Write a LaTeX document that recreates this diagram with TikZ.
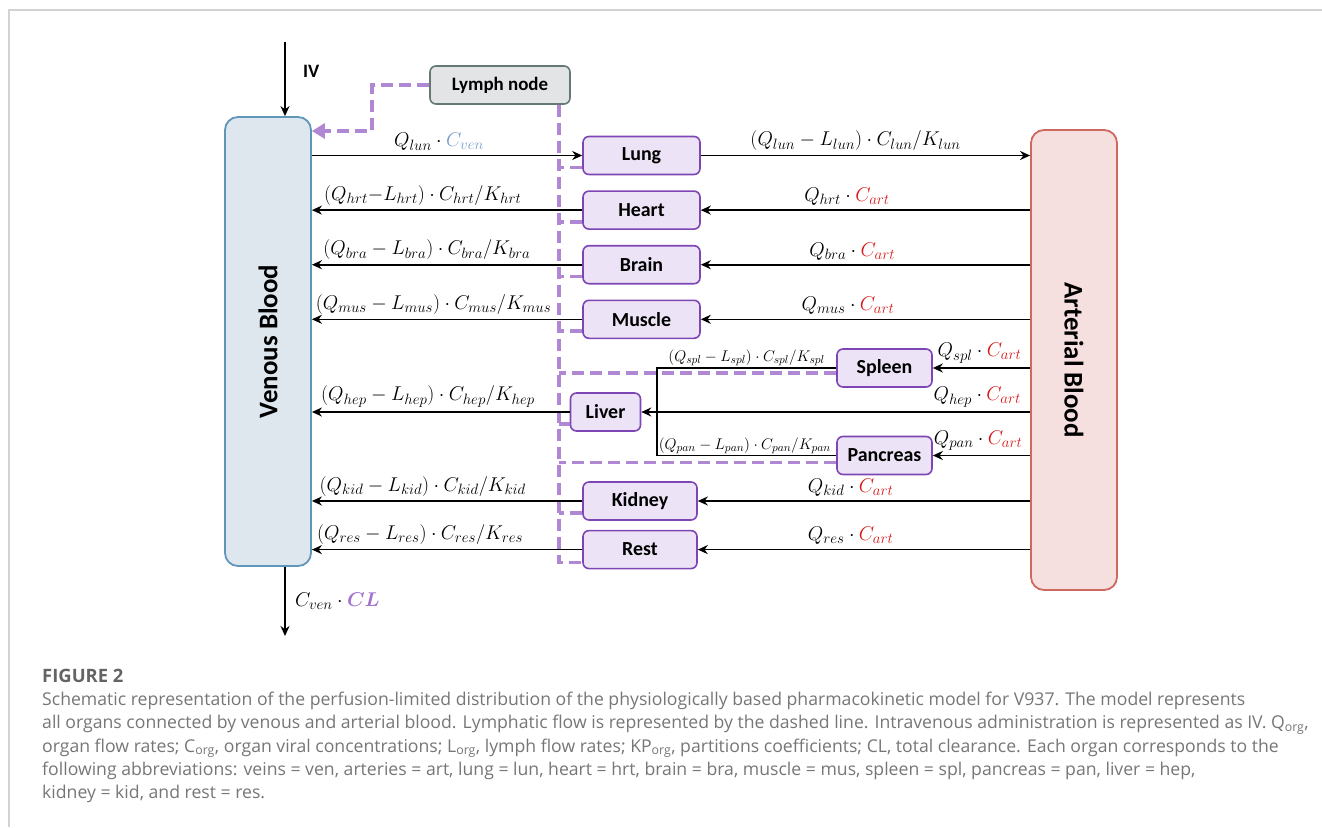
\RequirePackage{fix-cm}
\documentclass[tikz,border=0pt]{standalone}
\usepackage{fontspec}
\usepackage{amsmath}
\usetikzlibrary{arrows.meta,positioning,calc}
\newfontfamily\boxfont{Carlito}
\newfontfamily\capfont{Open Sans}
\definecolor{venfill}{RGB}{222,230,238}
\definecolor{venline}{RGB}{96,150,185}
\definecolor{artfill}{RGB}{246,223,223}
\definecolor{artline}{RGB}{205,105,95}
\definecolor{organfill}{RGB}{236,228,246}
\definecolor{organline}{RGB}{125,70,180}
\definecolor{lymphfill}{RGB}{226,228,230}
\definecolor{lymphline}{RGB}{100,120,118}
\definecolor{lymphc}{RGB}{175,135,210}
\definecolor{venblue}{RGB}{120,155,210}
\definecolor{artred}{RGB}{215,25,25}
\definecolor{clc}{RGB}{165,115,205}
\definecolor{capc}{RGB}{118,118,118}
\definecolor{framec}{RGB}{210,210,210}
\DeclareMathSizes{20}{20}{15}{11}
\DeclareMathSizes{15.5}{15.5}{11.5}{9}
\newcommand{\vret}[1]{$(Q_{#1}-L_{#1})\cdot C_{#1}/K_{#1}$}
\newcommand{\ain}[1]{$Q_{#1}\cdot\textcolor{artred}{C_{art}}$}

\begin{document}
\begin{tikzpicture}[x=1bp, y=-1bp,
  organ/.style={draw=organline, fill=organfill, line width=1.6bp, rounded corners=6bp,
    minimum width=117bp, minimum height=38bp, inner sep=1bp,
    font=\boxfont\fontsize{20}{24}\selectfont\bfseries},
  blood/.style={line width=1.8bp, rounded corners=13bp, minimum width=86bp,
    font=\boxfont\fontsize{27}{30}\selectfont\bfseries},
  flow/.style={line width=1.6bp, -{Stealth[length=10bp, width=9bp]}},
  conn/.style={line width=1.6bp},
  lymphflow/.style={draw=lymphc, line width=3.5bp, dash pattern=on 12bp off 6bp},
  lab/.style={font=\fontsize{20}{22}\selectfont, inner sep=2bp, above=2bp},
  slab/.style={font=\fontsize{15.5}{17}\selectfont, inner sep=1bp, above},
]
  \useasboundingbox (0,0) rectangle (1322,827);
  \draw[framec, line width=1.5bp] (9,827) -- (9,10) -- (1322,10);

  % compartments
  \node[blood, draw=venline, fill=venfill, minimum height=449bp] (ven) at (268,341.5) {\rotatebox{90}{Venous Blood}};
  \node[blood, draw=artline, fill=artfill, minimum height=460bp] (art) at (1074,360) {\rotatebox{-90}{Arterial Blood}};
  \node[draw=lymphline, fill=lymphfill, line width=1.6bp, rounded corners=6bp, minimum width=140bp,
    minimum height=38bp, font=\boxfont\fontsize{19}{22}\selectfont\bfseries] (lymph) at (500,85) {Lymph node};

  \node[organ] (lung) at (641.5,155.5) {Lung};
  \node[organ, below=15bp of lung] (heart) {Heart};
  \node[organ, below=15bp of heart] (brain) {Brain};
  \node[organ, below=15bp of brain] (muscle) {Muscle};
  \node[organ, minimum width=95bp] (spleen) at (884.5,368) {Spleen};
  \node[organ, minimum width=70bp] (liver) at (605.5,412) {Liver};
  \node[organ, minimum width=95bp] (pancreas) at (884.5,455.5) {Pancreas};
  \node[organ, minimum width=114bp] (kidney) at (640,501) {Kidney};
  \node[organ, minimum width=114bp, below=9bp of kidney] (rest) {Rest};

  \coordinate (iv) at (285,42);
  \coordinate (clear) at (285,636);
  \coordinate (bend) at (372,131);
  \coordinate (jn) at (657,412);
  \coordinate (ltop) at ([xshift=-12bp]lymph.south east);

  % lymph
  \draw[lymphflow, -{Triangle[length=13bp, width=15bp]}] (lymph.west) -| (bend) -- (bend -| ven.east);
  \draw[lymphflow] (ltop) |- ([yshift=7bp]rest.south west);
  \foreach \o in {lung,heart,brain,muscle,liver,kidney} {
    \path ([yshift=8bp]\o.south west) coordinate (s);
    \draw[lymphflow] (s) -- (s -| ltop);
  }
  \path ([yshift=-5bp]spleen.west) coordinate (s);
  \draw[lymphflow] (s) -- (s -| ltop);
  \path ([yshift=-7bp]pancreas.west) coordinate (s);
  \draw[lymphflow] (s) -- (s -| ltop);

  % blood flows
  \draw[flow] (iv) -- (iv |- ven.north) node[pos=0.4, right=14bp, font=\boxfont\fontsize{19}{22}\selectfont\bfseries] {IV};
  \draw[flow] (ven.south -| clear) -- (clear) node[midway, right=6bp, font=\fontsize{20}{22}\selectfont] {$C_{ven}\cdot\textcolor{clc}{\boldsymbol{CL}}$};
  \draw[flow] (ven.east |- lung) -- node[lab, pos=0.47] {$Q_{lun}\cdot\textcolor{venblue}{C_{ven}}$} (lung.west);
  \draw[flow] (lung.east) -- node[lab, pos=0.47] {\vret{lun}} (lung.east -| art.west);
  \draw[flow] (heart.west) -- node[lab, pos=0.59] {$(Q_{hrt}{-}L_{hrt})\cdot C_{hrt}/K_{hrt}$} (heart.west -| ven.east);
  \foreach \o/\a/\p in {brain/bra/0.575, muscle/mus/0.55, liver/hep/0.55, kidney/kid/0.59, rest/res/0.6}
    \draw[flow] (\o.west) -- node[lab, pos=\p] {\vret{\a}} (\o.west -| ven.east);
  \foreach \o/\a/\p in {heart/hrt/0.556, brain/bra/0.54, muscle/mus/0.553, spleen/spl/0.52,
      liver/hep/0.136, pancreas/pan/0.535, kidney/kid/0.54, rest/res/0.54}
    \draw[flow] (art.west |- \o) -- node[lab, pos=\p] {\ain{\a}} (\o.east);
  \draw[conn] (spleen.west) -- node[slab, pos=0.5] {$(Q_{spl}-L_{spl})\cdot C_{spl}/K_{spl}$} (spleen.west -| jn)
    -- (pancreas.west -| jn) -- node[slab, pos=0.49] {$(Q_{pan}-L_{pan})\cdot C_{pan}/K_{pan}$} (pancreas.west);

  % caption
  \node[anchor=base west, text=capc!85!black, font=\capfont\fontsize{18.5}{22}\selectfont\bfseries, inner sep=0] (fig) at (42,682) {FIGURE 2};
  \node[anchor=north west, align=left, text=capc, inner sep=0, font=\capfont\fontsize{17.7}{23.3}\selectfont] (cap) at (42,692)
    {Schematic representation of the perfusion-limited distribution of the physiologically based pharmacokinetic model for V937. The model represents\\
     all organs connected by venous and arterial blood. Lymphatic flow is represented by the dashed line. Intravenous administration is represented as IV. Q\textsubscript{org},\\
     organ flow rates; C\textsubscript{org}, organ viral concentrations; L\textsubscript{org}, lymph flow rates; KP\textsubscript{org}, partitions coefficients; CL, total clearance. Each organ corresponds to the\\
     following abbreviations: veins = ven, arteries = art, lung = lun, heart = hrt, brain = bra, muscle = mus, spleen = spl, pancreas = pan, liver = hep,\\
     kidney = kid, and rest = res.};
\end{tikzpicture}
\end{document}
